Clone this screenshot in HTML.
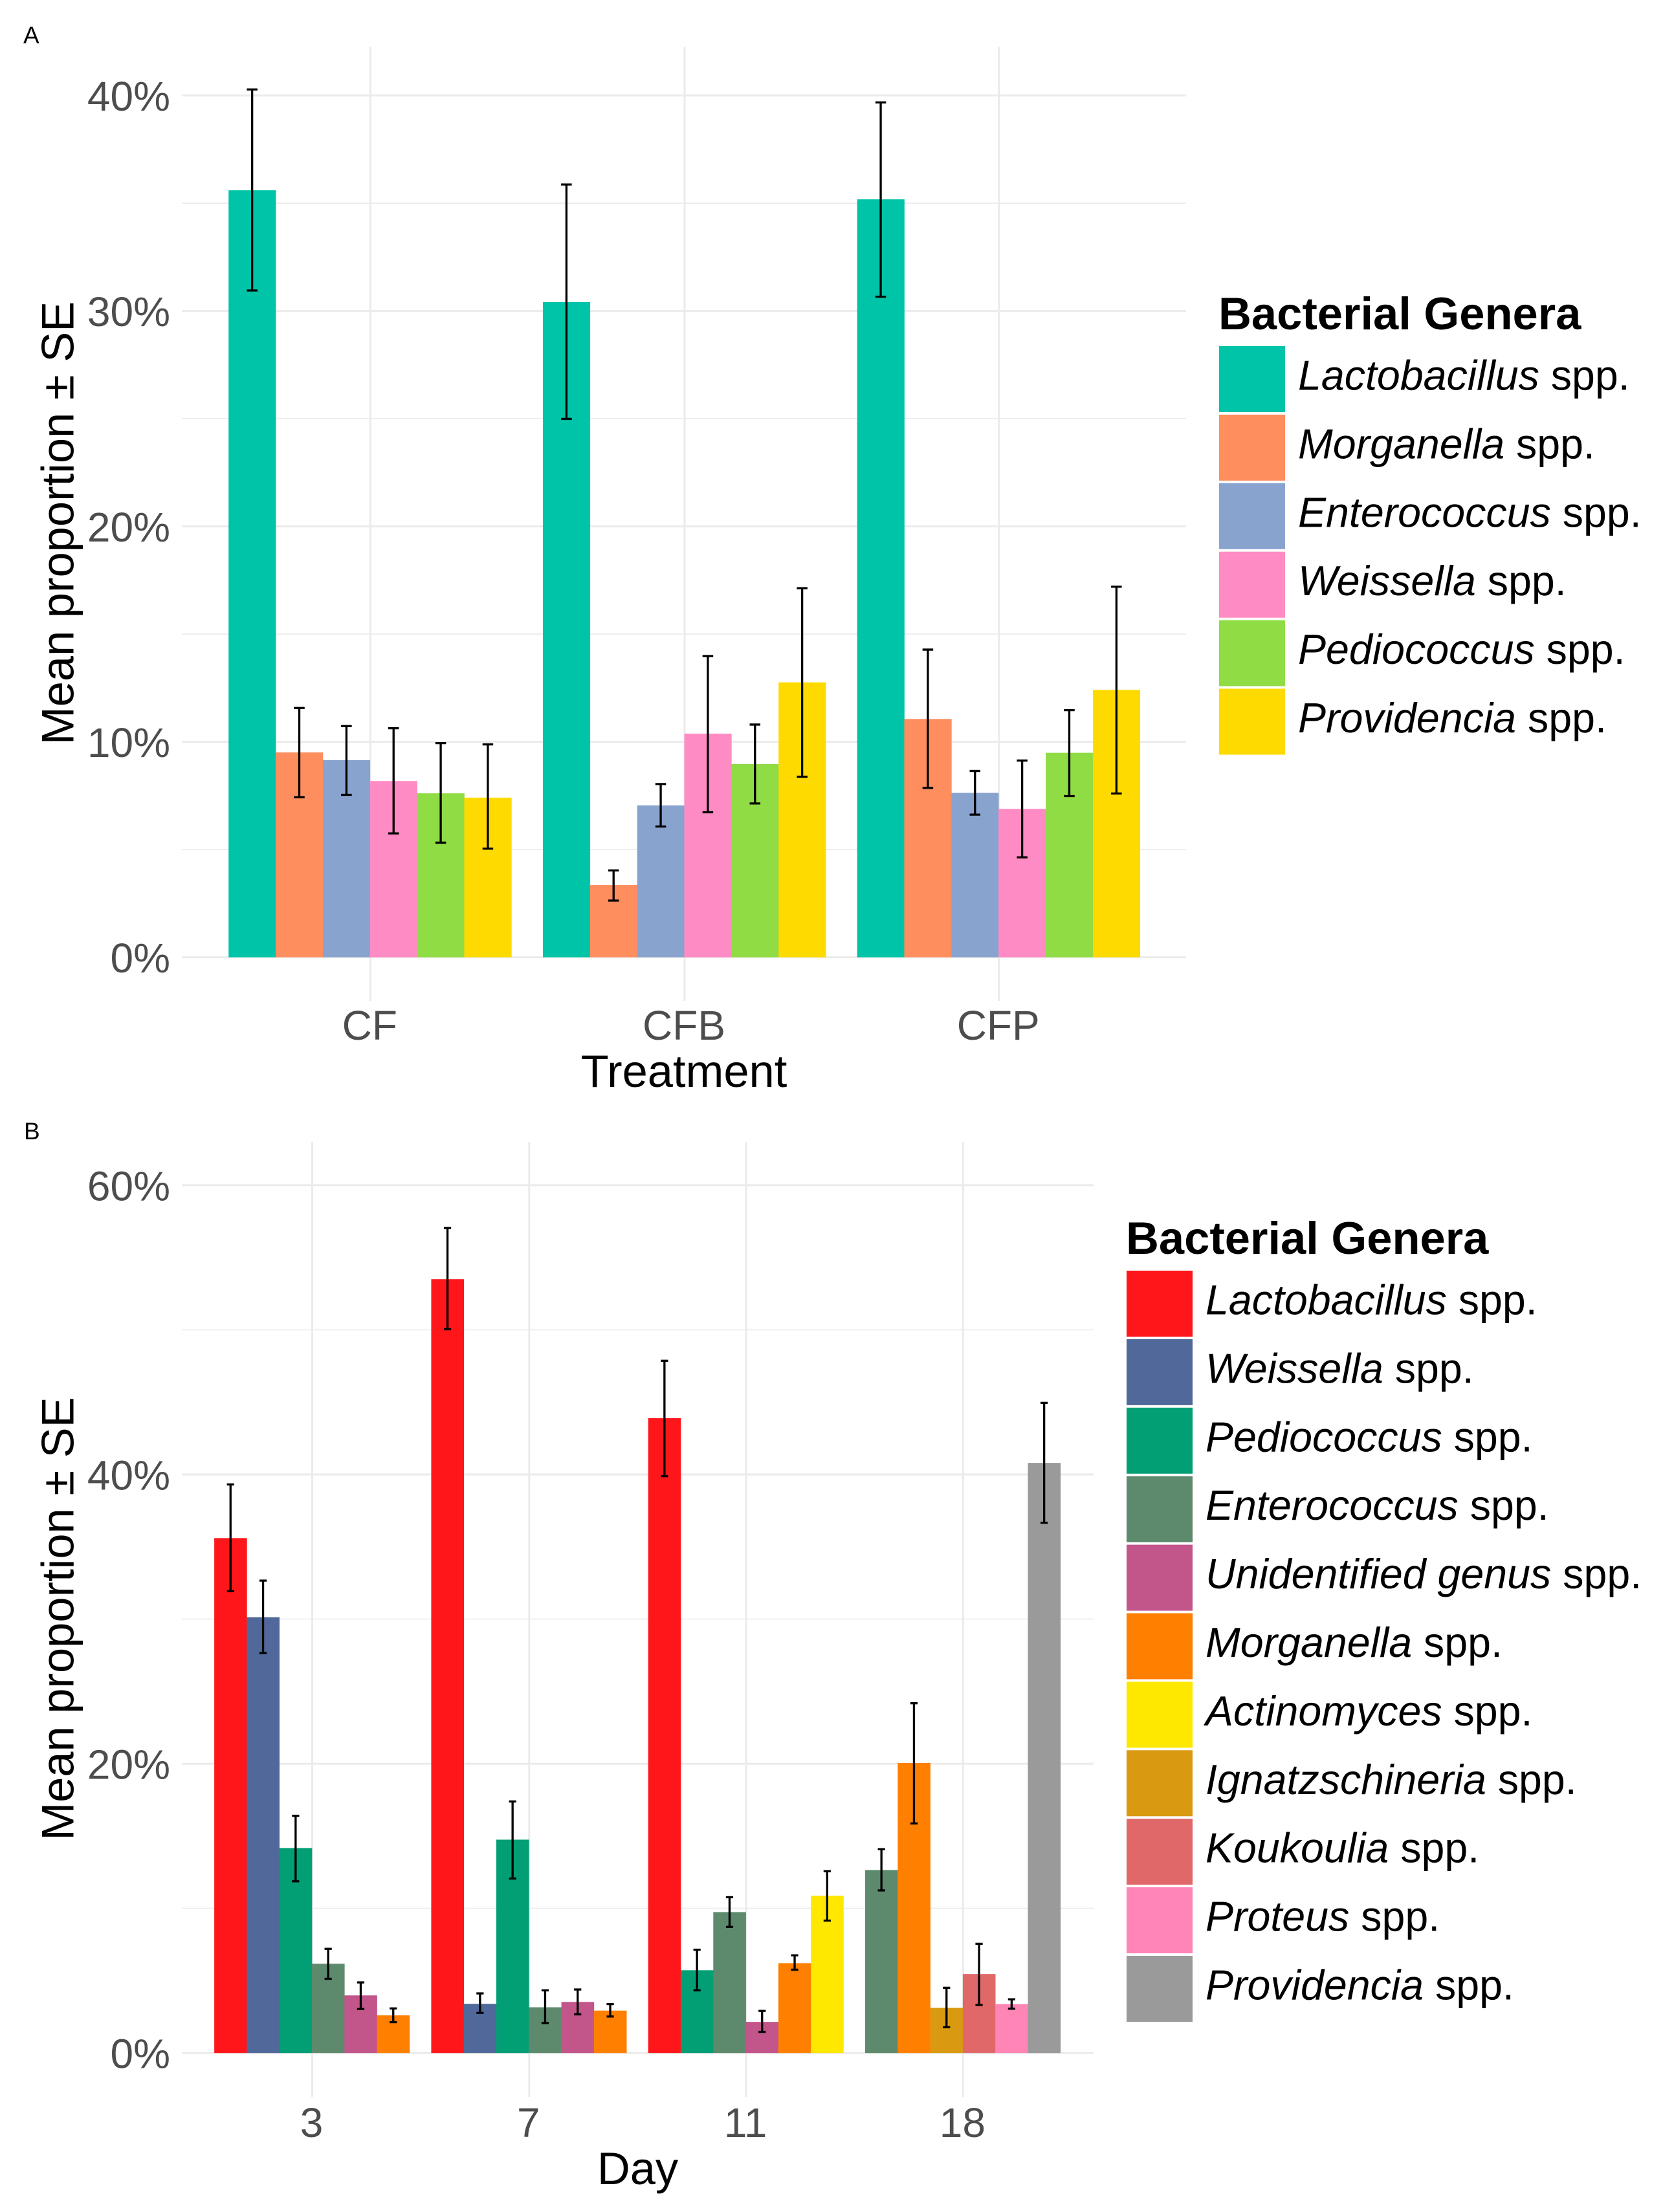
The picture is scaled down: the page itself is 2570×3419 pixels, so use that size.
<!DOCTYPE html>
<html lang="en">
<head>
<meta charset="utf-8">
<title>Bacterial genera mean proportion by treatment and day</title>
<style>
html,body{margin:0;padding:0;background:#fff;}
svg{display:block;}
text{font-family:"Liberation Sans",Arial,sans-serif;white-space:pre;}
</style>
</head>
<body>
<svg id="figure" xmlns="http://www.w3.org/2000/svg" width="2570" height="3419" viewBox="0 0 2570 3419"></svg>
<script>
// ---------- Panel A data ----------
const treatments = ['CF', 'CFB', 'CFP'];
const aGenera = ['Lactobacillus', 'Morganella', 'Enterococcus', 'Weissella', 'Pediococcus', 'Providencia'];
const aColors = ['#00C4A7', '#FF8E5F', '#89A3CF', '#FF8BC4', '#8FDC44', '#FFDA00'];
const aYTicks = [0, 10, 20, 30, 40];
const aYMinor = [5, 15, 25, 35];
const aTickLabels = ['0%', '10%', '20%', '30%', '40%'];

const aMeanLactobacillus = [35.60, 30.41, 35.18];
const aUpperLactobacillus = [40.28, 35.87, 39.68];
const aLowerLactobacillus = [30.95, 24.99, 30.66];
const aMeanMorganella = [9.51, 3.35, 11.06];
const aUpperMorganella = [11.57, 4.03, 14.28];
const aLowerMorganella = [7.43, 2.63, 7.86];
const aMeanEnterococcus = [9.15, 7.05, 7.63];
const aUpperEnterococcus = [10.73, 8.04, 8.65];
const aLowerEnterococcus = [7.54, 6.07, 6.62];
const aMeanWeissella = [8.18, 10.38, 6.89];
const aUpperWeissella = [10.63, 13.98, 9.13];
const aLowerWeissella = [5.75, 6.73, 4.64];
const aMeanPediococcus = [7.61, 8.97, 9.49];
const aUpperPediococcus = [9.94, 10.80, 11.47];
const aLowerPediococcus = [5.32, 7.14, 7.48];
const aMeanProvidencia = [7.41, 12.76, 12.41];
const aUpperProvidencia = [9.88, 17.13, 17.20];
const aLowerProvidencia = [5.04, 8.38, 7.60];

// ---------- Panel B data ----------
const days = ['3', '7', '11', '18'];
const bGenera = ['Lactobacillus', 'Weissella', 'Pediococcus', 'Enterococcus', 'Unidentified genus', 'Morganella', 'Actinomyces', 'Ignatzschineria', 'Koukoulia', 'Proteus', 'Providencia'];
const bColors = ['#FF161B', '#50699A', '#029F74', '#5D8A6C', '#C2558A', '#FF7F00', '#FFE800', '#D99A12', '#E16868', '#FF85B7', '#9A9A9A'];
const bYTicks = [0, 20, 40, 60];
const bYMinor = [10, 30, 50];
const bTickLabels = ['0%', '20%', '40%', '60%'];

const bMeanLactobacillus = [35.60, 53.50, 43.89, null];
const bUpperLactobacillus = [39.31, 57.04, 47.86, null];
const bLowerLactobacillus = [31.93, 50.04, 39.88, null];
const bMeanWeissella = [30.13, 3.40, null, null];
const bUpperWeissella = [32.66, 4.12, null, null];
const bLowerWeissella = [27.65, 2.77, null, null];
const bMeanPediococcus = [14.17, 14.75, 5.72, null];
const bUpperPediococcus = [16.40, 17.39, 7.14, null];
const bLowerPediococcus = [11.87, 12.06, 4.33, null];
const bMeanEnterococcus = [6.17, 3.16, 9.74, 12.65];
const bUpperEnterococcus = [7.20, 4.33, 10.77, 14.09];
const bLowerEnterococcus = [5.13, 2.07, 8.72, 11.24];
const bMeanUnidentified = [3.98, 3.53, 2.15, null];
const bUpperUnidentified = [4.88, 4.39, 2.91, null];
const bLowerUnidentified = [3.04, 2.67, 1.46, null];
const bMeanMorganella = [2.60, 2.93, 6.21, 20.05];
const bUpperMorganella = [3.08, 3.38, 6.75, 24.18];
const bLowerMorganella = [2.13, 2.52, 5.76, 15.87];
const bMeanActinomyces = [null, null, 10.87, null];
const bUpperActinomyces = [null, null, 12.57, null];
const bLowerActinomyces = [null, null, 9.15, null];
const bMeanIgnatzschineria = [null, null, null, 3.12];
const bUpperIgnatzschineria = [null, null, null, 4.51];
const bLowerIgnatzschineria = [null, null, null, 1.78];
const bMeanKoukoulia = [null, null, null, 5.46];
const bUpperKoukoulia = [null, null, null, 7.55];
const bLowerKoukoulia = [null, null, null, 3.32];
const bMeanProteus = [null, null, null, 3.38];
const bUpperProteus = [null, null, null, 3.71];
const bLowerProteus = [null, null, null, 3.06];
const bMeanProvidencia = [null, null, null, 40.80];
const bUpperProvidencia = [null, null, null, 44.95];
const bLowerProvidencia = [null, null, null, 36.66];

// ---------- Series tables (link the arrays above) ----------
const aMeans = [aMeanLactobacillus, aMeanMorganella, aMeanEnterococcus, aMeanWeissella, aMeanPediococcus, aMeanProvidencia];
const aUppers = [aUpperLactobacillus, aUpperMorganella, aUpperEnterococcus, aUpperWeissella, aUpperPediococcus, aUpperProvidencia];
const aLowers = [aLowerLactobacillus, aLowerMorganella, aLowerEnterococcus, aLowerWeissella, aLowerPediococcus, aLowerProvidencia];
const bMeans = [bMeanLactobacillus, bMeanWeissella, bMeanPediococcus, bMeanEnterococcus, bMeanUnidentified, bMeanMorganella, bMeanActinomyces, bMeanIgnatzschineria, bMeanKoukoulia, bMeanProteus, bMeanProvidencia];
const bUppers = [bUpperLactobacillus, bUpperWeissella, bUpperPediococcus, bUpperEnterococcus, bUpperUnidentified, bUpperMorganella, bUpperActinomyces, bUpperIgnatzschineria, bUpperKoukoulia, bUpperProteus, bUpperProvidencia];
const bLowers = [bLowerLactobacillus, bLowerWeissella, bLowerPediococcus, bLowerEnterococcus, bLowerUnidentified, bLowerMorganella, bLowerActinomyces, bLowerIgnatzschineria, bLowerKoukoulia, bLowerProteus, bLowerProvidencia];

const NS = 'http://www.w3.org/2000/svg';
const root = document.getElementById('figure');

function make(parent, tag) {
  const el = document.createElementNS(NS, tag);
  parent.appendChild(el);
  return el;
}

function label(parent, str, x, y, size, fill, anchor) {
  const el = make(parent, 'text');
  el.setAttribute('x', x);
  el.setAttribute('y', y);
  el.setAttribute('font-size', size);
  el.setAttribute('fill', fill);
  el.setAttribute('text-anchor', anchor);
  el.textContent = str;
  return el;
}

function hLine(parent, x1, x2, y, width, color) {
  const el = make(parent, 'line');
  el.setAttribute('x1', x1);
  el.setAttribute('x2', x2);
  el.setAttribute('y1', y);
  el.setAttribute('y2', y);
  el.setAttribute('stroke', color);
  el.setAttribute('stroke-width', width);
  return el;
}

function vLine(parent, x, y1, y2, width, color) {
  const el = make(parent, 'line');
  el.setAttribute('x1', x);
  el.setAttribute('x2', x);
  el.setAttribute('y1', y1);
  el.setAttribute('y2', y2);
  el.setAttribute('stroke', color);
  el.setAttribute('stroke-width', width);
  return el;
}

function drawPanel(p) {
  const g = make(root, 'g');
  
  

  const tag = label(g, p.id.toUpperCase(), p.tagX, p.tagY, 37, '#000', 'start');
  
  

  const xAt = i => p.x0 + i * p.band;
  const yAt = v => p.y0 - v * p.perUnit;

  // grid
  p.minor.forEach(v => {
    const l = hLine(g, p.left, p.right, yAt(v), 1.7, '#ececec');
    
    
  });
  p.ticks.forEach((v, i) => {
    const l = hLine(g, p.left, p.right, yAt(v), 3, '#ebebeb');
    
    
    const t = label(g, p.tickLabels[i], 263, yAt(v) + 23.5, 64, '#4d4d4d', 'end');
    
    
  });
  p.cats.forEach((c, i) => {
    const l = vLine(g, xAt(i), p.top, p.bottom, 3, '#ebebeb');
    
    
    const t = label(g, c, xAt(i) - 1, p.xTickY, 64, '#4d4d4d', 'middle');
    
    
  });

  // bars then error bars, dodged among the genera present in each category
  p.cats.forEach((c, i) => {
    const present = [];
    p.means.forEach((m, s) => { if (m[i] !== null) present.push(s); });
    const w = 0.9 * p.band / present.length;
    const start = xAt(i) - 0.45 * p.band - 0.5;
    present.forEach((s, k) => {
      const r = make(g, 'rect');
      r.setAttribute('x', start + k * w);
      r.setAttribute('y', yAt(p.means[s][i]));
      r.setAttribute('width', w + 0.3);
      r.setAttribute('height', p.y0 - yAt(p.means[s][i]));
      r.setAttribute('fill', p.colors[s]);
      
      
    });
    present.forEach((s, k) => {
      const cx = start + (k + 0.5) * w;
      const e = make(g, 'g');
      
      
      vLine(e, cx, yAt(p.uppers[s][i]), yAt(p.lowers[s][i]), 3.3, '#000');
      hLine(e, cx - p.cap / 2, cx + p.cap / 2, yAt(p.uppers[s][i]), 3.3, '#000');
      hLine(e, cx - p.cap / 2, cx + p.cap / 2, yAt(p.lowers[s][i]), 3.3, '#000');
    });
  });

  // axis titles
  const yMid = (p.top + p.bottom) / 2 - 1;
  const yTitle = label(g, 'Mean proportion \u00B1 SE', 113.5, yMid, 70.5, '#000', 'middle');
  yTitle.setAttribute('transform', 'rotate(-90 113.5 ' + yMid + ')');
  
  
  const xTitle = label(g, p.xTitle, (p.left + p.right) / 2, p.xTickY + 73, 70.5, '#000', 'middle');
  
  

  // legend
  const lg = make(g, 'g');
  
  
  const lt = label(lg, 'Bacterial Genera', p.legX - 2, p.legTop - 26, 70.5, '#000', 'start');
  lt.setAttribute('font-weight', 'bold');
  
  
  p.genera.forEach((name, s) => {
    const ky = p.legTop + s * 105.9;
    const k = make(lg, 'rect');
    k.setAttribute('x', p.legX - 1);
    k.setAttribute('y', ky);
    k.setAttribute('width', 102);
    k.setAttribute('height', 102);
    k.setAttribute('fill', p.colors[s]);
    
    
    const t = label(lg, '', p.legX + 121, ky + 67.5, 64.5, '#000', 'start');
    
    
    const it = make(t, 'tspan');
    it.setAttribute('font-style', 'italic');
    it.textContent = name;
    const sp = make(t, 'tspan');
    sp.textContent = ' spp.';
  });
}

drawPanel({
  id: 'a', tagX: 36, tagY: 67,
  cats: treatments, genera: aGenera, colors: aColors,
  means: aMeans, uppers: aUppers, lowers: aLowers,
  ticks: aYTicks, minor: aYMinor, tickLabels: aTickLabels,
  x0: 572.3, band: 485.7, y0: 1479.6, perUnit: 33.3,
  left: 281, right: 1833, top: 72, bottom: 1547,
  xTickY: 1607, xTitle: 'Treatment', cap: 16.5,
  legX: 1885, legTop: 535
});

drawPanel({
  id: 'b', tagX: 37, tagY: 1761,
  cats: days, genera: bGenera, colors: bColors,
  means: bMeans, uppers: bUppers, lowers: bLowers,
  ticks: bYTicks, minor: bYMinor, tickLabels: bTickLabels,
  x0: 482.5, band: 335.3, y0: 3173.2, perUnit: 22.355,
  left: 281, right: 1690, top: 1765, bottom: 3241,
  xTickY: 3303, xTitle: 'Day', cap: 11.2,
  legX: 1742, legTop: 1964
});
</script>
</body>
</html>
